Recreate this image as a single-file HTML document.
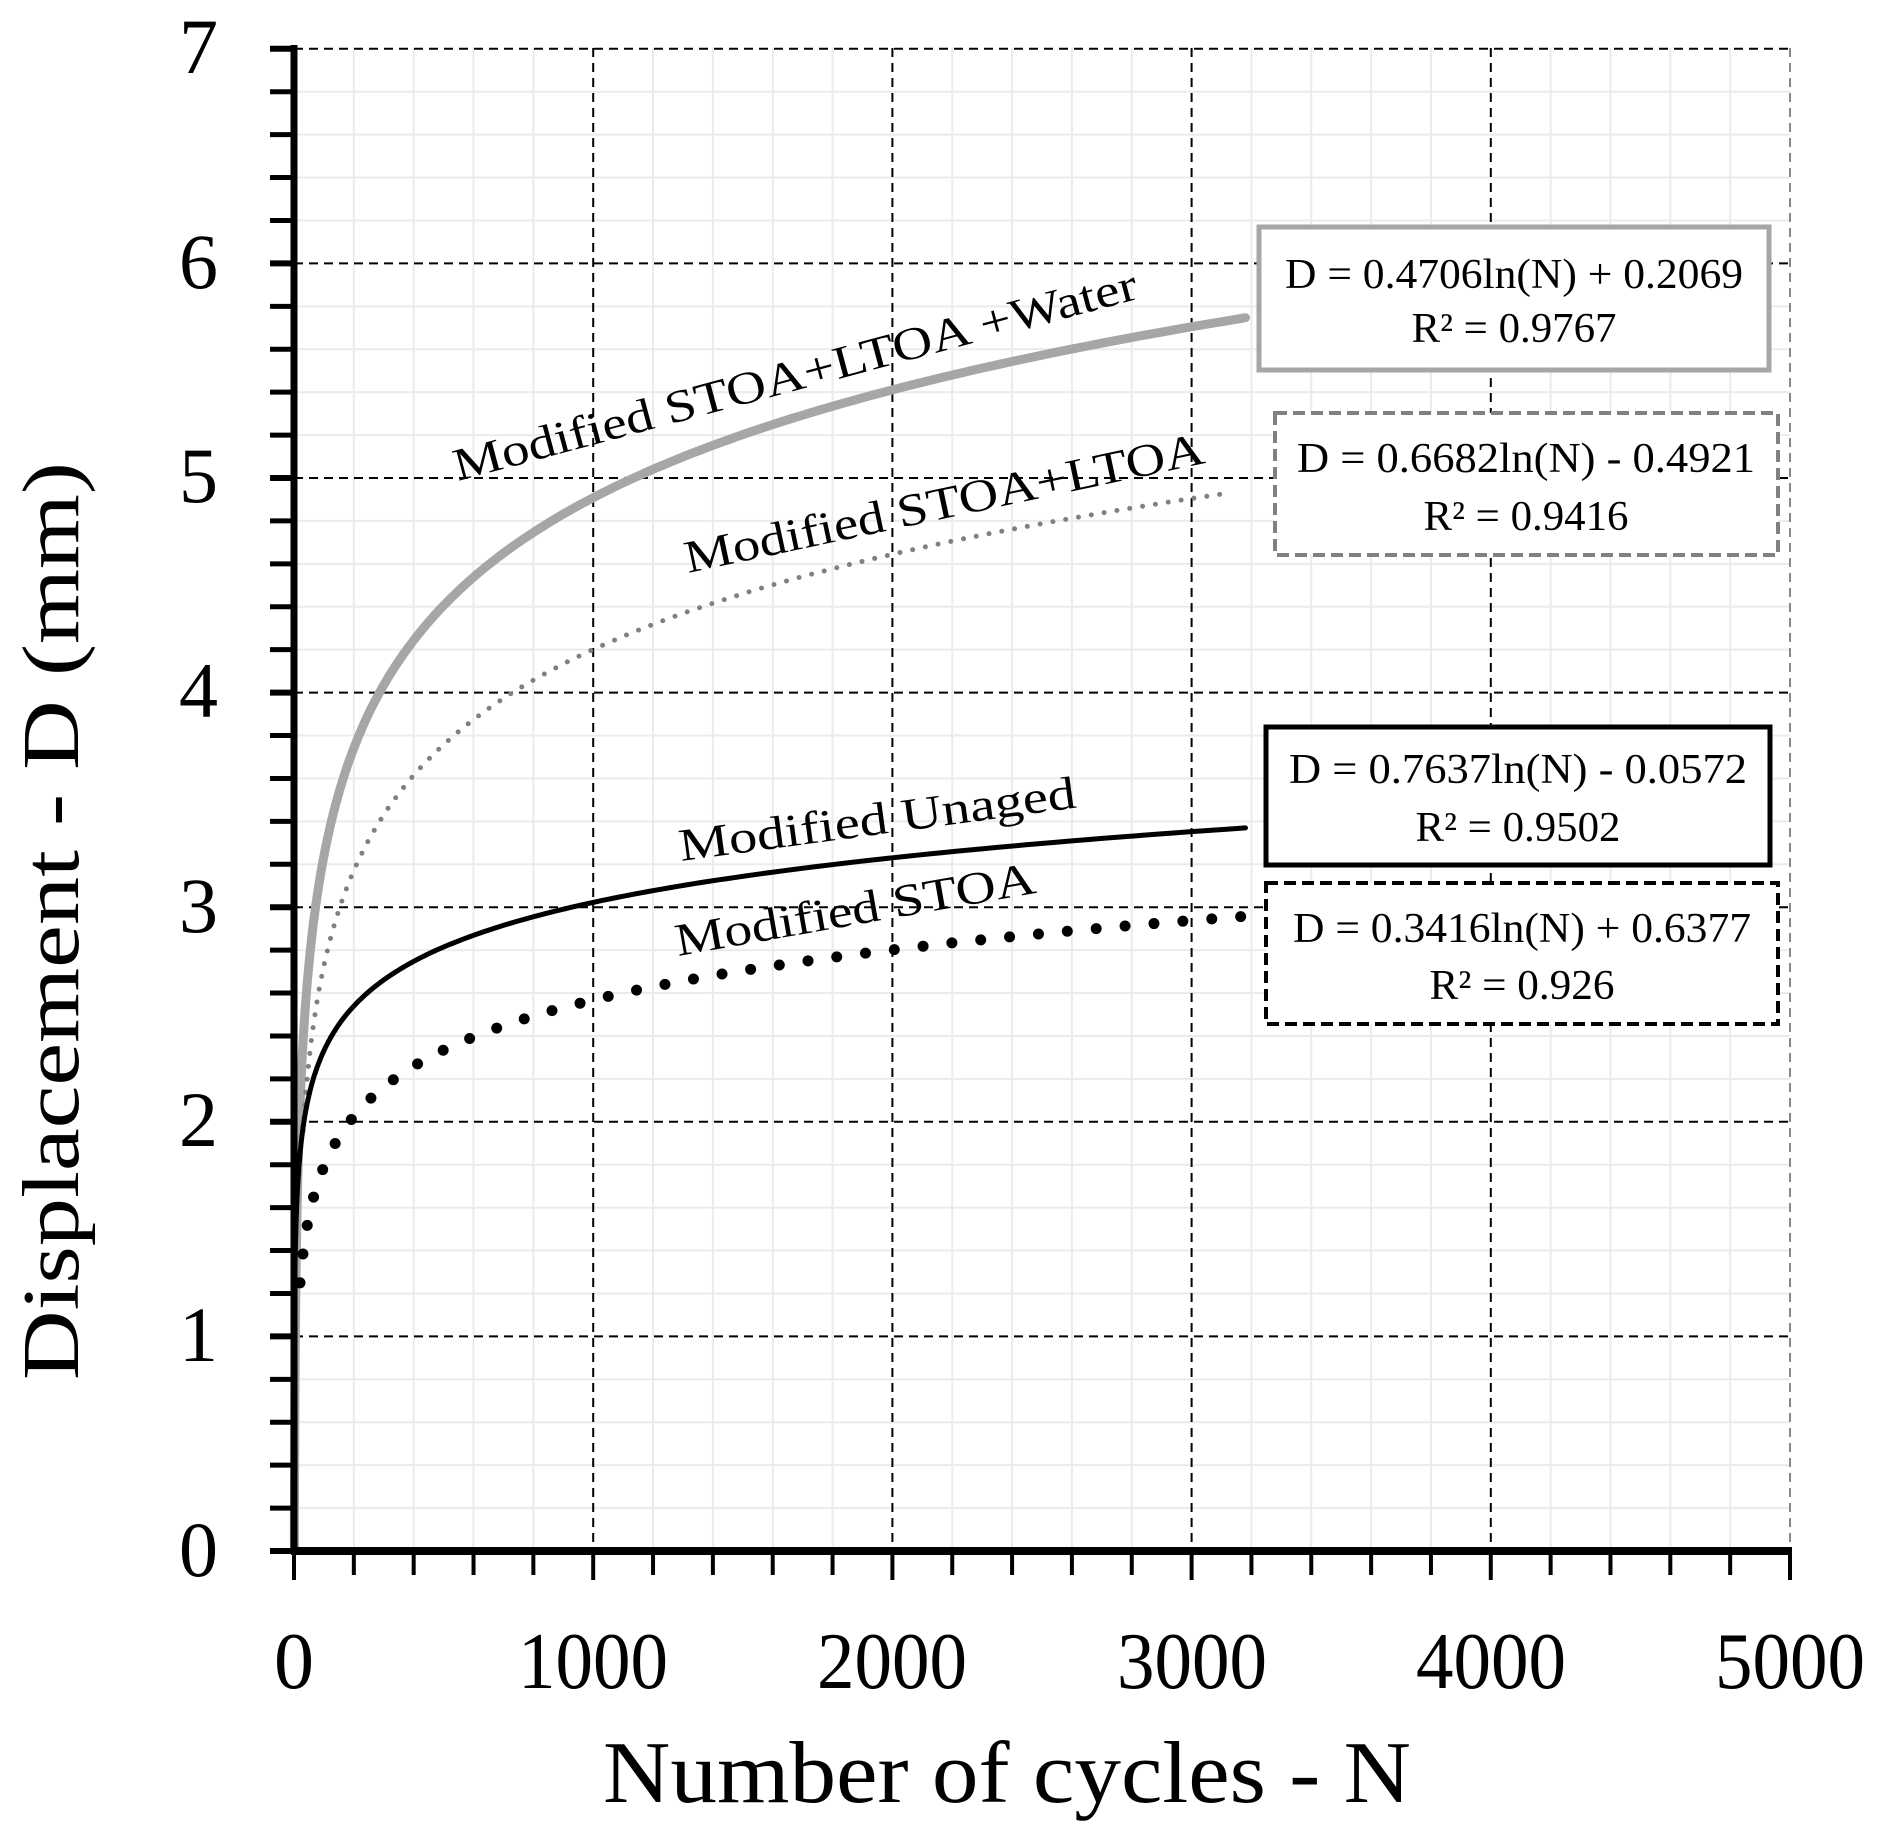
<!DOCTYPE html>
<html><head><meta charset="utf-8"><style>
html,body{margin:0;padding:0;background:#fff;}
svg{display:block;}
text{font-family:"Liberation Serif",serif;fill:#000;}
</style></head><body>
<svg id="s" width="1882" height="1840" viewBox="0 0 1882 1840" xmlns="http://www.w3.org/2000/svg">
<g id="minor" stroke="#ebebeb" stroke-width="2"></g>
<g id="major" stroke="#000" stroke-width="2" stroke-dasharray="9,6" fill="none"></g>
<g id="curves" fill="none" stroke-linecap="round"></g>
<g id="axes"></g>
<g font-size="78" text-anchor="end">
<text x="218" y="1576">0</text>
<text x="218" y="1361">1</text>
<text x="218" y="1146">2</text>
<text x="218" y="932">3</text>
<text x="218" y="717">4</text>
<text x="218" y="502">5</text>
<text x="218" y="288">6</text>
<text x="218" y="73">7</text>
</g>
<g font-size="80" text-anchor="middle">
<text x="294" y="1688">0</text>
<text x="593" y="1688" textLength="150" lengthAdjust="spacingAndGlyphs">1000</text>
<text x="892" y="1688" textLength="150" lengthAdjust="spacingAndGlyphs">2000</text>
<text x="1192" y="1688" textLength="150" lengthAdjust="spacingAndGlyphs">3000</text>
<text x="1491" y="1688" textLength="150" lengthAdjust="spacingAndGlyphs">4000</text>
<text x="1790" y="1688" textLength="150" lengthAdjust="spacingAndGlyphs">5000</text>
</g>
<text x="1007" y="1802" font-size="88" text-anchor="middle" textLength="808" lengthAdjust="spacingAndGlyphs">Number of cycles - N</text>
<text transform="translate(78,921) rotate(-90)" font-size="80" text-anchor="middle" textLength="918" lengthAdjust="spacingAndGlyphs">Displacement - D (mm)</text>
<g font-size="46">
<text transform="translate(458,481) rotate(-15)" textLength="706" lengthAdjust="spacingAndGlyphs">Modified STOA+LTOA +Water</text>
<text transform="translate(688,573) rotate(-12)" textLength="530" lengthAdjust="spacingAndGlyphs">Modified STOA+LTOA</text>
<text transform="translate(681,861) rotate(-7.7)" textLength="400" lengthAdjust="spacingAndGlyphs">Modified Unaged</text>
<text transform="translate(678,956) rotate(-10)" textLength="365" lengthAdjust="spacingAndGlyphs">Modified STOA</text>
</g>
<rect x="1259" y="227" width="510" height="143" fill="#fff" stroke="#a6a6a6" stroke-width="5"/>
<rect x="1275" y="413" width="503" height="142" fill="#fff" stroke="#808080" stroke-width="4" stroke-dasharray="12,6"/>
<rect x="1266" y="727" width="504" height="138" fill="#fff" stroke="#000" stroke-width="5"/>
<rect x="1266" y="883" width="512" height="141" fill="#fff" stroke="#000" stroke-width="4" stroke-dasharray="12,6"/>
<g font-size="42" text-anchor="middle">
<text x="1514" y="288" textLength="458" lengthAdjust="spacingAndGlyphs">D = 0.4706ln(N) + 0.2069</text>
<text x="1514" y="342" textLength="205" lengthAdjust="spacingAndGlyphs">R² = 0.9767</text>
<text x="1526" y="472" textLength="458" lengthAdjust="spacingAndGlyphs">D = 0.6682ln(N) - 0.4921</text>
<text x="1526" y="530" textLength="205" lengthAdjust="spacingAndGlyphs">R² = 0.9416</text>
<text x="1518" y="783" textLength="458" lengthAdjust="spacingAndGlyphs">D = 0.7637ln(N) - 0.0572</text>
<text x="1518" y="841" textLength="205" lengthAdjust="spacingAndGlyphs">R² = 0.9502</text>
<text x="1522" y="942" textLength="458" lengthAdjust="spacingAndGlyphs">D = 0.3416ln(N) + 0.6377</text>
<text x="1522" y="999" textLength="185" lengthAdjust="spacingAndGlyphs">R² = 0.926</text>
</g>
</svg>
<script>
(function(){
var NS="http://www.w3.org/2000/svg";
function X(n){return 294+n*0.2992;}
function Y(d){return 1551-d*214.6;}
function el(p,tag,a){var e=document.createElementNS(NS,tag);for(var k in a)e.setAttribute(k,a[k]);document.getElementById(p).appendChild(e);return e;}
for(var n=200;n<5000;n+=200){if(n%1000)el("minor","line",{x1:X(n),y1:48,x2:X(n),y2:1551});}
for(var i=1;i<35;i++){if(i%5)el("minor","line",{x1:294,y1:Y(i*0.2),x2:1790,y2:Y(i*0.2)});}
for(var n=1000;n<=5000;n+=1000){el("major","line",{x1:X(n),y1:48,x2:X(n),y2:1551,stroke:(n==5000?"#888":"#000")});}
for(var d=1;d<=7;d++){el("major","line",{x1:294,y1:Y(d),x2:1790,y2:Y(d)});}
function path(a,b,nStart,nEnd,fromOrigin){var pts=[];
 var l0=Math.log(nStart),l1=Math.log(nEnd);
 for(var t=0;t<=400;t++){var n=Math.exp(l0+t/400*(l1-l0));var v=Math.max(0,a*Math.log(n)+b);pts.push([X(n),Y(v)]);}
 var s=fromOrigin?"M"+X(1).toFixed(1)+","+Y(0).toFixed(1)+"L":"M";
 s+=pts.map(function(p){return p[0].toFixed(1)+","+p[1].toFixed(1);}).join("L");return s;}
el("curves","path",{d:path(0.725,-0.10,1,3180,true),stroke:"#a6a6a6","stroke-width":9});
el("curves","path",{d:path(0.64,-0.22,30,3130,false),stroke:"#808080","stroke-width":5,"stroke-dasharray":"0 13"});
el("curves","path",{d:path(0.30,0.95,1,3180,true),stroke:"#000","stroke-width":5});
el("curves","path",{d:path(0.337,0.24,20,3200,false),stroke:"#000","stroke-width":11,"stroke-dasharray":"0 29"});
el("axes","line",{x1:294,y1:45,x2:294,y2:1554,stroke:"#000","stroke-width":7});
el("axes","line",{x1:291,y1:1551,x2:1792,y2:1551,stroke:"#000","stroke-width":8});
for(var i=0;i<=35;i++){el("axes","line",{x1:270,y1:Y(i*0.2),x2:294,y2:Y(i*0.2),stroke:"#000","stroke-width":(i%5?5:6)});}
for(var n=0;n<=5000;n+=200){el("axes","line",{x1:X(n),y1:1551,x2:X(n),y2:(n%1000?1575:1580),stroke:"#000","stroke-width":4});}
})();
</script>
</body></html>
